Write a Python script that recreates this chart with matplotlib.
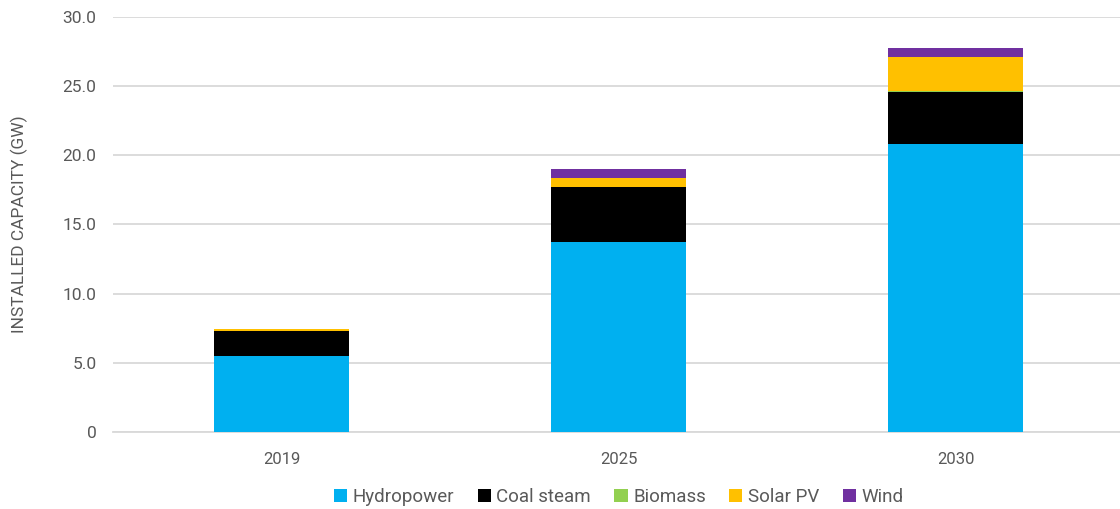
import numpy as np
import matplotlib.pyplot as plt

plt.rcParams['font.family'] = ['Roboto', 'DejaVu Sans']

years = ["2019", "2025", "2030"]
hydropower = [5.47, 13.74, 20.80]
coal_steam = [1.85, 3.97, 3.80]
biomass = [0.02, 0.03, 0.03]
solar_pv = [0.13, 0.63, 2.49]
wind = [0.0, 0.61, 0.60]

series = [("Hydropower", hydropower, "#00b0f0"),
          ("Coal steam", coal_steam, "#000000"),
          ("Biomass", biomass, "#92d050"),
          ("Solar PV", solar_pv, "#ffc000"),
          ("Wind", wind, "#7030a0")]

text_color = "#595959"

fig = plt.figure(figsize=(11.2, 5.09), dpi=100)
ax = fig.add_axes([0.101, 0.151, 0.903, 0.816])

x = np.arange(len(years))
bottom = np.zeros(len(years))
for name, vals, color in series:
    ax.bar(x, vals, width=0.4, bottom=bottom, color=color, label=name, zorder=3)
    bottom += np.array(vals)

ax.set_xlim(-0.5, 2.5)
ax.set_ylim(0, 30)
ax.set_yticks([0, 5, 10, 15, 20, 25, 30])
ax.set_yticklabels(["0", "5.0", "10.0", "15.0", "20.0", "25.0", "30.0"])
ax.set_xticks(x)
ax.set_xticklabels(years)
ax.grid(axis="y", color="#d9d9d9", linewidth=1.3, zorder=0)
for s in ["top", "right", "left"]:
    ax.spines[s].set_visible(False)
ax.spines["bottom"].set_color("#d9d9d9")
ax.spines["bottom"].set_linewidth(1.3)
ax.tick_params(axis="y", length=0, pad=12, labelsize=12.5, labelcolor=text_color)
ax.tick_params(axis="x", length=0, pad=14, labelsize=12, labelcolor=text_color)
ax.set_ylabel("INSTALLED CAPACITY (GW)", fontsize=12.5, color=text_color, labelpad=25)

ax.legend(loc="upper center", bbox_to_anchor=(0.5, -0.093), ncol=5, frameon=False,
          fontsize=13.5, labelcolor=text_color, handlelength=0.7, handleheight=0.7,
          handletextpad=0.3, columnspacing=1.25)

fig.savefig("out.png", dpi=100)
